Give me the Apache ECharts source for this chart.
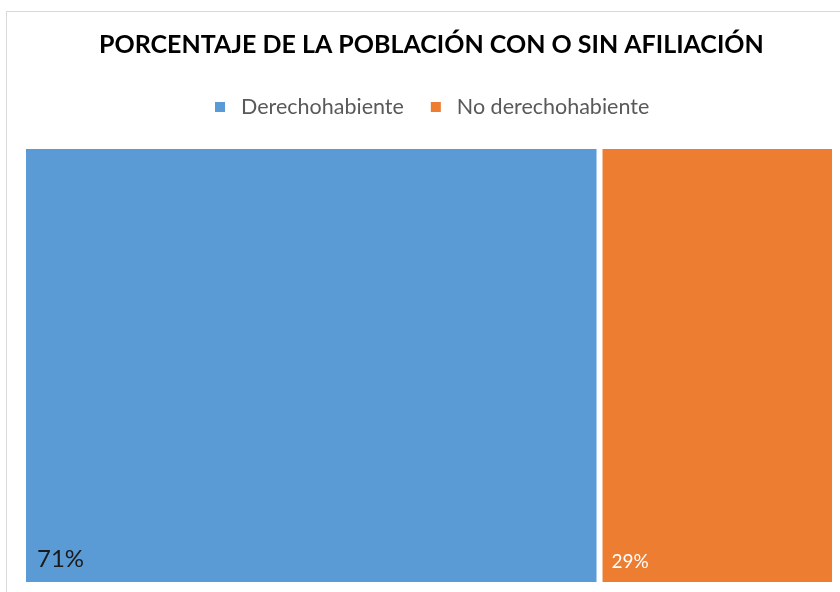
<!DOCTYPE html>
<html>
<head>
<meta charset="utf-8">
<script src="https://cdn.jsdelivr.net/npm/echarts@6/dist/echarts.min.js"></script>
<style>
  body { margin: 0; background: #fff; }
  #frame { position: absolute; left: 6px; top: 11px; width: 900px; height: 700px; border: 1px solid #d9d9d9; }
  #chart { position: absolute; left: 0; top: 0; width: 840px; height: 592px; }
</style>
</head>
<body>
<div id="frame"></div>
<div id="chart"></div>
<script>
// datos
var titulo = 'PORCENTAJE DE LA POBLACIÓN CON O SIN AFILIACIÓN';
var categorias = ['Derechohabiente', 'No derechohabiente'];
var valores = [71, 29];
var colores = ['#5b9bd5', '#ed7d31'];
var colorEtiqueta = ['#1a1a1a', '#ffffff'];
var tamEtiqueta = [24, 19];
var desplazaEtiqueta = [[14, -14], [12, -14]];

var myChart = echarts.init(document.getElementById('chart'));

var series = categorias.map(function (nombre, i) {
  return {
    name: nombre,
    type: 'bar',
    stack: 'total',
    barWidth: '100%',
    data: [valores[i]],
    itemStyle: { color: colores[i], borderColor: '#fff', borderWidth: 3 },
    label: {
      show: true,
      position: 'insideBottomLeft',
      distance: 0,
      offset: desplazaEtiqueta[i],
      formatter: '{c}%',
      color: colorEtiqueta[i],
      fontSize: tamEtiqueta[i],
      fontFamily: 'Lato'
    },
    emphasis: { disabled: true }
  };
});

var option = {
  animation: false,
  title: {
    text: titulo,
    left: 94,
    top: 27,
    textStyle: { fontFamily: 'Lato', fontWeight: 'bold', fontSize: 25, color: '#000' }
  },
  legend: {
    data: categorias,
    top: 91,
    left: 208,
    icon: 'rect',
    itemWidth: 12,
    itemHeight: 12,
    itemGap: 25,
    textStyle: { fontFamily: 'Lato', fontSize: 21.5, color: '#595959', padding: [0, 0, 0, 10] }
  },
  grid: { left: 23, right: 5, top: 146, bottom: 7 },
  xAxis: { type: 'value', min: 0, max: 100, show: false },
  yAxis: { type: 'category', data: [''], show: false },
  series: series
};
myChart.setOption(option);
</script>
</body>
</html>
